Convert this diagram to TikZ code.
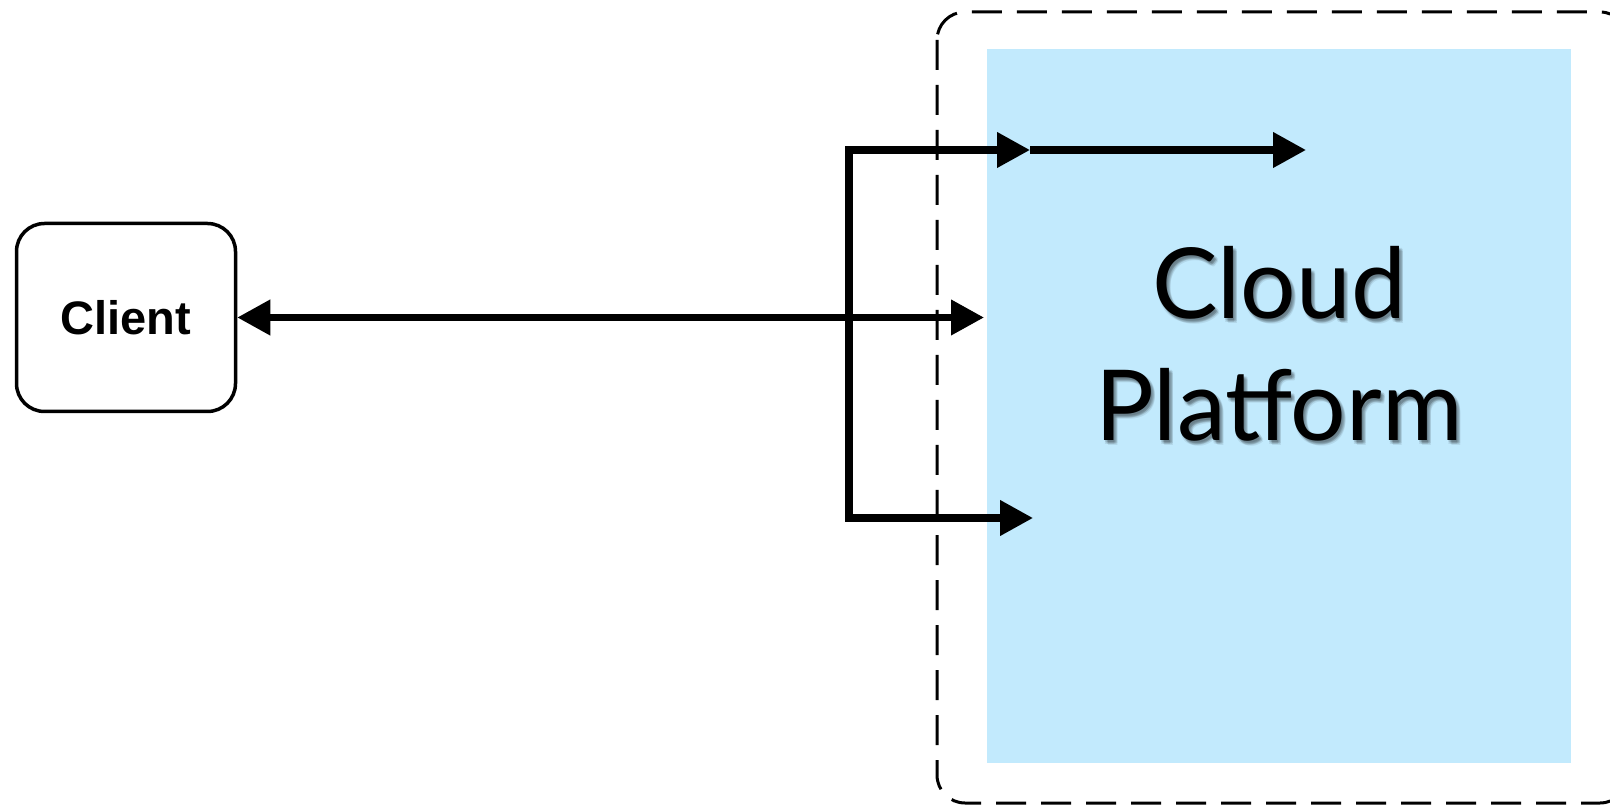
\documentclass[tikz,border=0pt]{standalone}
\usepackage{fontspec}
\setsansfont{Liberation Sans}
\newfontfamily\cloudfont{Lato}
\usetikzlibrary{arrows.meta}
\definecolor{cloudblue}{RGB}{194,234,253}
\tikzset{
  onearr/.style={line width=3.6pt, line join=miter, -{Triangle[length=16.5pt,width=17pt]}},
  twoarr/.style={line width=3.6pt, line join=miter, {Triangle[length=16.5pt,width=17pt]}-{Triangle[length=16.5pt,width=17pt]}},
  clientbox/.style={draw, line width=1.75pt, rounded corners=14pt, fill=white,
    minimum width=109.5pt, minimum height=94pt, inner sep=0pt,
    font=\sffamily\bfseries\fontsize{23.5}{28}\selectfont},
  regionbox/.style={draw, line width=1.5pt, dash pattern=on 15pt off 7.5pt, rounded corners=14pt},
  cloudtext/.style={align=center, font=\cloudfont\fontsize{49}{61}\selectfont},
}
\begin{document}
\begin{tikzpicture}[x=0.5pt,y=-0.5pt]
\useasboundingbox (0,0) rectangle (1610,806);
\draw[regionbox] (937,12) rectangle (1628,803);
\node[fill=cloudblue, minimum width=292pt, minimum height=357pt, inner sep=0pt] (cloud) at (1279,406) {};
\foreach \dx/\dy in {1/2,2/3,3/4,4/5,3/2,1/4,4/3}{
  \node[cloudtext, text=black, opacity=0.08] at (1279+\dx,343.5+\dy) {Cloud\\Platform};
}
\node[cloudtext] (cloudlabel) at (1279,343.5) {Cloud\\Platform};
\node[clientbox] (client) at (126,317.5) {Client};
\coordinate (tA) at (1030,150);
\coordinate (cA) at (849,150);
\coordinate (cB) at (849,518);
\coordinate (tB) at (1033,518);
\coordinate (tC) at (1306,150);
\coordinate (mid) at (984,317.5);
\draw[twoarr] (tA) -- (cA) -- (cB) -- (tB);
\draw[onearr] (tA) -- (tC);
\draw[twoarr] (client.east) -- (mid);
\end{tikzpicture}
\end{document}
